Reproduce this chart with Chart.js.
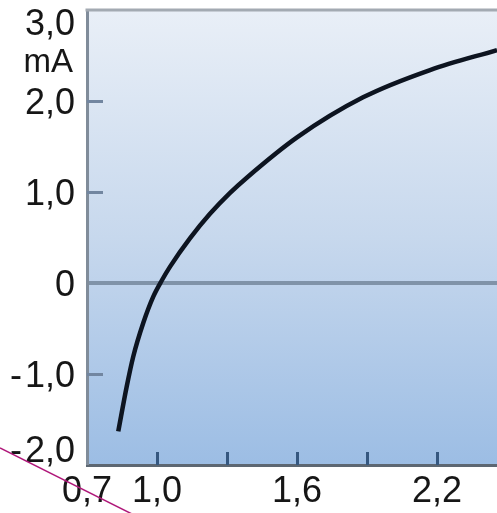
<!DOCTYPE html>
<html>
<head>
<meta charset="utf-8">
<script src="https://cdn.jsdelivr.net/npm/chart.js@4/dist/chart.umd.min.js"></script>
<style>
  html, body { margin: 0; padding: 0; background: #ffffff; }
  #wrap { width: 497px; height: 513px; }
</style>
</head>
<body>
<div id="wrap"><canvas id="c" width="497" height="513"></canvas></div>
<script>
// Diode-like characteristic: current (mA) against voltage (V)
const voltage = [0.834, 0.870, 0.898, 0.941, 0.984, 1.021, 1.056, 1.141, 1.227, 1.313, 1.386, 1.600, 1.883, 2.170, 2.457];
const current = [-1.63, -1.14, -0.81, -0.44, -0.15, 0.03, 0.18, 0.49, 0.76, 0.99, 1.16, 1.60, 2.04, 2.34, 2.56];

// Axis ranges and tick labels
const xMin = 0.7, xMax = 2.457;
const yMin = -2, yMax = 3;
const yTickValues = [-2, -1, 0, 1, 2, 3];
const yTickLabels = ['-\u200A2,0', '-\u200A1,0', '0', '1,0', '2,0', '3,0'];
const yUnit = 'mA';
const xLabelValues = [0.7, 1.0, 1.6, 2.2];
const xLabelTexts = ['0,7', '1,0', '1,6', '2,2'];
const xMarkValues = [1.0, 1.3, 1.6, 1.9, 2.2];
const yMarkValues = [-1, 1, 2];

const points = voltage.map((v, i) => ({ x: v, y: current[i] }));

const LABEL_FONT = "36px 'Liberation Sans', Arial, sans-serif";
const UNIT_FONT = "33px 'Liberation Sans', Arial, sans-serif";

const decor = {
  id: 'decor',
  beforeDraw(chart) {
    const { ctx, chartArea: a } = chart;
    const g = ctx.createLinearGradient(0, a.top, 0, a.bottom);
    g.addColorStop(0, '#e9eff7');
    g.addColorStop(0.5, '#c7d8ed');
    g.addColorStop(1, '#9cbde4');
    ctx.save();
    ctx.fillStyle = g;
    ctx.fillRect(a.left, a.top, a.right - a.left, a.bottom - a.top);
    ctx.restore();
  },
  beforeDatasetsDraw(chart) {
    const { ctx, chartArea: a, scales: { x, y } } = chart;
    ctx.save();
    // short inward tick marks on the bottom axis
    ctx.strokeStyle = '#35577f';
    ctx.lineWidth = 3;
    xMarkValues.forEach(v => {
      const px = Math.round(x.getPixelForValue(v)) + 0.5;
      ctx.beginPath();
      ctx.moveTo(px, a.bottom - 13);
      ctx.lineTo(px, a.bottom);
      ctx.stroke();
    });
    // short inward tick marks on the left axis
    ctx.strokeStyle = '#7286a0';
    yMarkValues.forEach(v => {
      const py = Math.round(y.getPixelForValue(v)) + 0.5;
      ctx.beginPath();
      ctx.moveTo(a.left, py);
      ctx.lineTo(a.left + 16, py);
      ctx.stroke();
    });
    ctx.restore();
  },
  afterDraw(chart) {
    const { ctx, chartArea: a, scales: { x, y } } = chart;
    ctx.save();
    // top frame line
    ctx.strokeStyle = '#a3aab2';
    ctx.lineWidth = 3;
    ctx.beginPath();
    ctx.moveTo(a.left - 1.5, a.top);
    ctx.lineTo(a.right, a.top);
    ctx.stroke();

    // y tick labels
    ctx.fillStyle = '#161616';
    ctx.font = LABEL_FONT;
    ctx.textAlign = 'right';
    ctx.textBaseline = 'alphabetic';
    yTickValues.forEach((v, i) => {
      let c = y.getPixelForValue(v);
      c = Math.max(a.top + 12, Math.min(a.bottom - 16, c));
      ctx.fillText(yTickLabels[i], a.left - 12, c + 13);
    });
    ctx.font = UNIT_FONT;
    ctx.fillText(yUnit, a.left - 14, a.top + 62);

    // x tick labels
    ctx.font = LABEL_FONT;
    ctx.textAlign = 'center';
    xLabelValues.forEach((v, i) => {
      ctx.fillText(xLabelTexts[i], x.getPixelForValue(v), a.bottom + 37);
    });

    // stray pen stroke across the lower-left corner
    ctx.strokeStyle = '#b0187a';
    ctx.lineWidth = 1.5;
    ctx.beginPath();
    ctx.moveTo(0, 448);
    ctx.lineTo(140, 518);
    ctx.stroke();
    ctx.restore();
  }
};

new Chart(document.getElementById('c'), {
  type: 'scatter',
  data: {
    datasets: [{
      data: points,
      showLine: true,
      borderColor: '#0d1420',
      borderWidth: 4.5,
      borderCapStyle: 'butt',
      pointRadius: 0,
      pointHoverRadius: 0,
      cubicInterpolationMode: 'monotone',
      fill: false
    }]
  },
  options: {
    responsive: false,
    devicePixelRatio: 1,
    animation: false,
    events: [],
    layout: { padding: { top: 10, right: 0, left: 0, bottom: 0 } },
    plugins: { legend: { display: false }, tooltip: { enabled: false } },
    scales: {
      x: {
        type: 'linear',
        min: xMin,
        max: xMax,
        ticks: { display: false },
        grid: { display: false },
        border: { display: true, color: '#5d6772', width: 3 },
        afterFit(scale) { scale.height = 48; }
      },
      y: {
        type: 'linear',
        min: yMin,
        max: yMax,
        ticks: { display: false, stepSize: 1 },
        grid: {
          display: true,
          drawOnChartArea: true,
          drawTicks: false,
          color: c => (c.tick && c.tick.value === 0 ? '#8093a8' : 'rgba(0,0,0,0)'),
          lineWidth: c => (c.tick && c.tick.value === 0 ? 4 : 0)
        },
        border: { display: true, color: '#808c9a', width: 3 },
        afterFit(scale) { scale.width = 87; }
      }
    }
  },
  plugins: [decor]
});
</script>
</body>
</html>
